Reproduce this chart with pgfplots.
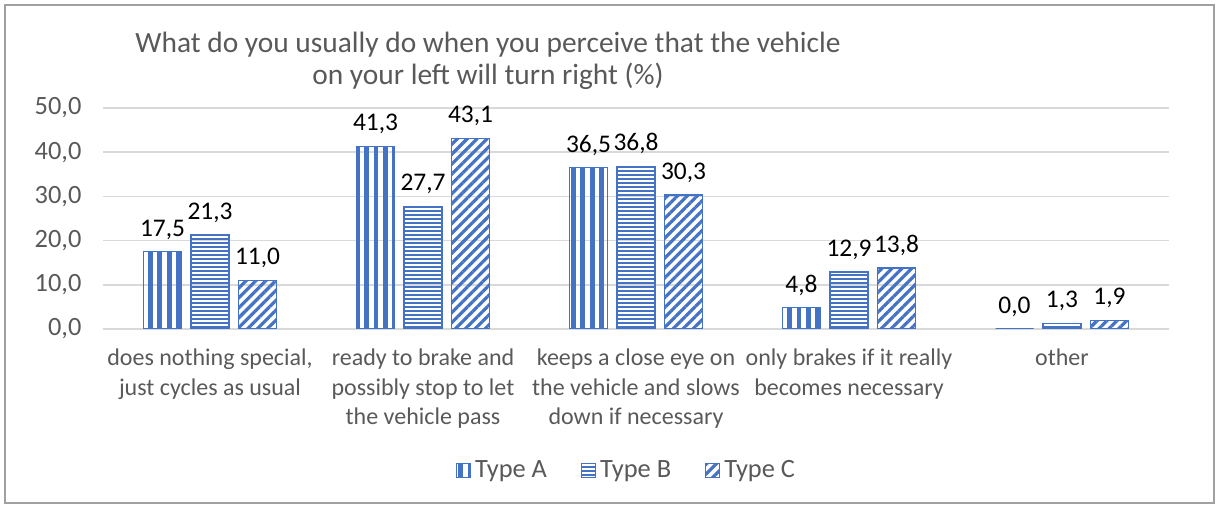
\documentclass[border=0pt]{standalone}
\usepackage{fontspec}
\setmainfont{Carlito}
\usepackage{pgfplots}
\pgfplotsset{compat=1.18}
\usetikzlibrary{patterns.meta}
\definecolor{barblue}{HTML}{4472C4}
\definecolor{txtgray}{HTML}{595959}
\definecolor{gridgray}{HTML}{D9D9D9}
\definecolor{bordergray}{HTML}{A0A0A0}
\begin{document}
\begin{tikzpicture}
\begin{axis}[
  at={(0,0)}, anchor=south west, scale only axis,
  width=532.5pt, height=110.5pt,
  ymin=0, ymax=50, ytick={0,10,...,50},
  xmin=-0.5, xmax=4.5, xtick={0,1,2,3,4},
  xticklabels={{does nothing special,\\just cycles as usual},
               {ready to brake and\\possibly stop to let\\the vehicle pass},
               {keeps a close eye on\\the vehicle and slows\\down if necessary},
               {only brakes if it really\\becomes necessary},
               {other}},
  ybar=4.75pt, bar width=19pt,
  axis line style={draw=none},
  ymajorgrids, grid style={gridgray, line width=0.75pt},
  major tick length=0pt,
  tick label style={text=txtgray},
  xticklabel style={font=\fontsize{12}{14.75}\selectfont, align=center, yshift=-6.5pt},
  yticklabel style={font=\fontsize{13.2}{15}\selectfont, xshift=-7.5pt, /pgf/number format/.cd, fixed, fixed zerofill, precision=1, use comma, assume math mode=true},
  nodes near coords,
  nodes near coords style={font=\fontsize{12.7}{14}\selectfont, text=black, yshift=2.5pt,
     /pgf/number format/.cd, fixed, fixed zerofill, precision=1, use comma, assume math mode=true},
  legend style={at={(0.492,-0.64)}, anchor=center, draw=none, legend columns=3,
     font=\fontsize{13.2}{15}\selectfont, text=txtgray,
     /tikz/every even column/.append style={column sep=15pt}},
  legend image code/.code={\draw[#1, line width=0.6pt] (0pt,-3.6pt) rectangle (7pt,3.6pt);},
]
\addplot[draw=barblue, line width=0.7pt, pattern={Lines[angle=90, distance=4.7pt, line width=2.4pt]}, pattern color=barblue]
  coordinates {(0,17.5) (1,41.3) (2,36.5) (3,4.8) (4,0.0)};
\addplot[draw=barblue, line width=0.7pt, pattern={Lines[angle=0, distance=2pt, line width=1pt]}, pattern color=barblue]
  coordinates {(0,21.3) (1,27.7) (2,36.8) (3,12.9) (4,1.3)};
\addplot[draw=barblue, line width=0.7pt, pattern={Lines[angle=45, distance=3.5pt, line width=1.6pt]}, pattern color=barblue]
  coordinates {(0,11.0) (1,43.1) (2,30.3) (3,13.8) (4,1.9)};
\legend{Type A, Type B, Type C}
\end{axis}
\node[align=center, font=\fontsize{14.7}{16}\selectfont, text=txtgray] at (192.25pt,134pt)
  {What do you usually do when you perceive that the vehicle\\on your left will turn right (\%)};
\draw[bordergray, line width=0.75pt] (-49.25pt,-87pt) rectangle (555.25pt,162pt);
\pgfresetboundingbox
\useasboundingbox (-51.75pt,-89pt) rectangle (557.75pt,164.5pt);
\end{tikzpicture}
\end{document}
